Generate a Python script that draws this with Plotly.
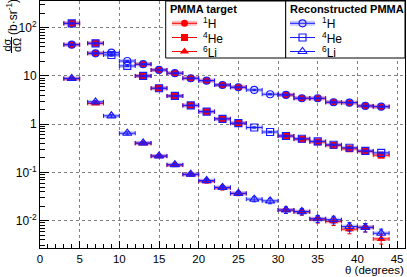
import plotly.graph_objects as go

# ---------------- data ----------------
theta_target = [4, 7, 13, 15, 17, 19, 21, 23, 25, 31, 33, 35, 37, 39, 41, 43]
h_target = [44.5, 29.5, 17.5, 13.3, 11.4, 8.96, 8.0, 6.5, 5.83, 4.05, 3.45, 3.42, 2.85, 2.8, 2.39, 2.31]
he_target = [123, 47.5, 10.0, 5.56, 3.85, 2.45, 1.82, 1.29, 1.05, 0.57, 0.49, 0.43, 0.365, 0.31, 0.272, 0.228]
li_target = [8.7, 2.7, 0.40, 0.217, 0.142, 0.091, 0.066, 0.048, 0.0367, 0.0166, 0.0153, 0.0108, 0.0097, 0.0067, 0.0073, 0.0042]
li_target_relerr = [0.03, 0.05, 0.05, 0.06, 0.07, 0.08, 0.09, 0.10, 0.10, 0.15, 0.15, 0.17, 0.18, 0.20, 0.20, 0.22]

theta_recon = [4, 7, 9, 11, 13, 15, 17, 19, 21, 23, 25, 27, 29, 31, 33, 35, 37, 39, 41, 43]
h_recon = [44.5, 29.5, 30.4, 20.4, 17.5, 13.3, 11.4, 8.96, 8.0, 6.5, 5.83, 5.13, 4.18, 4.05, 3.45, 3.45, 2.85, 2.8, 2.39, 2.31]
he_recon = [123, 47.5, 27.2, 16.1, 10.0, 5.56, 3.85, 2.45, 1.82, 1.29, 1.05, 0.855, 0.69, 0.57, 0.50, 0.44, 0.375, 0.325, 0.28, 0.255]
li_recon = [8.9, 2.9, 1.49, 0.65, 0.41, 0.22, 0.145, 0.092, 0.068, 0.049, 0.037, 0.028, 0.0258, 0.0167, 0.0155, 0.011, 0.0105, 0.0076, 0.0073, 0.0055]
li_recon_relerr = [0.03, 0.05, 0.06, 0.07, 0.05, 0.06, 0.07, 0.08, 0.09, 0.10, 0.10, 0.12, 0.13, 0.15, 0.15, 0.17, 0.18, 0.20, 0.20, 0.22]

hhe_relerr = 0.03
bin_halfwidth = 1.0

x_ticks = [0, 5, 10, 15, 20, 25, 30, 35, 40, 45]
y_tickvals = [0.01, 0.1, 1, 10, 100]
y_ticktext = ["10<sup>-2</sup>", "10<sup>-1</sup>", "1", "10", "10<sup>2</sup>"]

# ---------------- styling ----------------
W, H = 407, 277
PL, PR, PT, PB = 40, 405, 1, 248
FONT = "Liberation Sans, Arial, Helvetica, sans-serif"
RED = "#ff0000"
BLUE = "#1a1aff"
RED_BAND = "rgba(255,0,0,0.25)"
BLUE_BAND = "rgba(0,0,255,0.20)"

fig = go.Figure()


def add_series(x, y, relerr, color, band, symbol, filled):
    xerr = [bin_halfwidth] * len(x)
    yerr = [v * r for v, r in zip(y, relerr)]
    # systematic band (thick translucent bar)
    fig.add_trace(go.Scatter(
        x=x, y=y, mode="markers", marker=dict(size=1, opacity=0),
        error_x=dict(type="data", array=xerr, color=band, thickness=4, width=0),
        showlegend=False, hoverinfo="skip"))
    mk = dict(symbol=symbol, size=7 if "triangle" not in symbol else 8, color=color)
    if filled:
        mk["line"] = dict(width=0)
    else:
        mk["line"] = dict(width=1.2, color=color)
    fig.add_trace(go.Scatter(
        x=x, y=y, mode="markers", marker=mk,
        error_x=dict(type="data", array=xerr, color=color, thickness=1, width=2),
        error_y=dict(type="data", array=yerr, color=color, thickness=1, width=2),
        showlegend=False))


n_t = len(theta_target)
n_r = len(theta_recon)
add_series(theta_target, h_target, [hhe_relerr] * n_t, RED, RED_BAND, "circle", True)
add_series(theta_target, he_target, [hhe_relerr] * n_t, RED, RED_BAND, "square", True)
add_series(theta_target, li_target, li_target_relerr, RED, RED_BAND, "triangle-up", True)
add_series(theta_recon, h_recon, [hhe_relerr] * n_r, BLUE, BLUE_BAND, "circle-open", False)
add_series(theta_recon, he_recon, [hhe_relerr] * n_r, BLUE, BLUE_BAND, "square-open", False)
add_series(theta_recon, li_recon, li_recon_relerr, BLUE, BLUE_BAND, "triangle-up-open", False)

# ---------------- hand-drawn legends (pixel overlay axes) ----------------
shapes = []
annotations = []
legend_specs = [
    dict(x0=165.7, x1=285.7, title="PMMA target", lx0=172, lx1=197, tx=201, color=RED, band=RED_BAND,
         symbols=["circle", "square", "triangle-up"], filled=True),
    dict(x0=285.7, x1=405, title="Reconstructed PMMA", lx0=290, lx1=315, tx=320, color=BLUE, band=BLUE_BAND,
         symbols=["circle-open", "square-open", "triangle-up-open"], filled=False),
]
labels = ["<sup>1</sup>H", "<sup>4</sup>He", "<sup>6</sup>Li"]
entry_y = [23.3, 37.5, 51.5]
for spec in legend_specs:
    shapes.append(dict(type="rect", xref="x2", yref="y2", x0=spec["x0"], x1=spec["x1"], y0=1, y1=58,
                       line=dict(color="black", width=1), fillcolor="white", layer="below"))
    annotations.append(dict(xref="x2", yref="y2", x=spec["x0"] + 2.5, y=9, text="<b>" + spec["title"] + "</b>",
                            showarrow=False, xanchor="left", yanchor="middle",
                            font=dict(family=FONT, size=11, color="black")))
    for i, (sym, lab, yy) in enumerate(zip(spec["symbols"], labels, entry_y)):
        if i == 0:
            fig.add_trace(go.Scatter(x=[spec["lx0"], spec["lx1"]], y=[yy, yy], mode="lines",
                                     line=dict(color=spec["band"], width=5), xaxis="x2", yaxis="y2",
                                     showlegend=False, hoverinfo="skip", cliponaxis=False))
        fig.add_trace(go.Scatter(x=[spec["lx0"], spec["lx1"]], y=[yy, yy], mode="lines",
                                 line=dict(color=spec["color"], width=1), xaxis="x2", yaxis="y2",
                                 showlegend=False, hoverinfo="skip", cliponaxis=False))
        mk = dict(symbol=sym, size=7 if "triangle" not in sym else 8, color=spec["color"])
        mk["line"] = dict(width=0) if spec["filled"] else dict(width=1.2, color=spec["color"])
        fig.add_trace(go.Scatter(x=[(spec["lx0"] + spec["lx1"]) / 2], y=[yy], mode="markers", marker=mk,
                                 xaxis="x2", yaxis="y2", showlegend=False, hoverinfo="skip", cliponaxis=False))
        annotations.append(dict(xref="x2", yref="y2", x=spec["tx"], y=yy, text=lab, showarrow=False,
                                xanchor="left", yanchor="middle",
                                font=dict(family=FONT, size=12, color="black")))

# axis titles
annotations.append(dict(xref="x2", yref="y2", x=405, y=277, text="θ (degrees)", showarrow=False,
                        xanchor="right", yanchor="bottom", borderpad=0,
                        font=dict(family=FONT, size=11.5, color="black")))
annotations.append(dict(xref="x2", yref="y2", x=12, y=17, text="(b·sr<sup>-1</sup>)", showarrow=False,
                        textangle=-90, xanchor="center", yanchor="middle",
                        font=dict(family=FONT, size=12, color="black")))
annotations.append(dict(xref="x2", yref="y2", x=6.5, y=45, text="dσ", showarrow=False,
                        textangle=-90, xanchor="center", yanchor="middle",
                        font=dict(family=FONT, size=11, color="black")))
annotations.append(dict(xref="x2", yref="y2", x=17, y=45, text="dΩ", showarrow=False,
                        textangle=-90, xanchor="center", yanchor="middle",
                        font=dict(family=FONT, size=11, color="black")))
shapes.append(dict(type="line", xref="x2", yref="y2", x0=11.5, x1=11.5, y0=37, y1=53,
                   line=dict(color="black", width=1), layer="above"))

axis_common = dict(showline=True, linecolor="black", linewidth=1, mirror=True, ticks="inside",
                   tickcolor="black", showgrid=True, gridcolor="#808080", griddash="dot", gridwidth=1,
                   zeroline=False, automargin=False)

fig.update_layout(
    template="none",
    width=W, height=H,
    margin=dict(l=0, r=0, t=0, b=0),
    paper_bgcolor="white",
    plot_bgcolor="rgba(0,0,0,0)",
    showlegend=False,
    xaxis=dict(domain=[PL / W, PR / W], range=[0, 46], tickmode="array", tickvals=x_ticks,
               ticklen=7, minor=dict(dtick=1, tick0=0, ticks="inside", ticklen=4, tickcolor="black", showgrid=False),
               tickfont=dict(family=FONT, size=11.5, color="black"),
               anchor="y", **axis_common),
    yaxis=dict(domain=[(H - PB) / H, (H - PT) / H], type="log", range=[-2.565, 2.553],
               tickmode="array", tickvals=y_tickvals, ticktext=y_ticktext, ticklen=9,
               minor=dict(dtick="D1", ticks="inside", ticklen=5, tickcolor="black", showgrid=False),
               tickfont=dict(family=FONT, size=12, color="black"),
               anchor="x", **axis_common),
    xaxis2=dict(domain=[0, 1], range=[0, W], visible=False, anchor="y2", fixedrange=True),
    yaxis2=dict(domain=[0, 1], range=[H, 0], visible=False, anchor="x2", fixedrange=True),
    shapes=shapes,
    annotations=annotations,
    font=dict(family=FONT, size=12, color="black"),
)

fig.write_html("out.html", config={"displayModeBar": False},
               post_script="document.body.style.margin='0px';document.body.style.overflow='hidden';")
